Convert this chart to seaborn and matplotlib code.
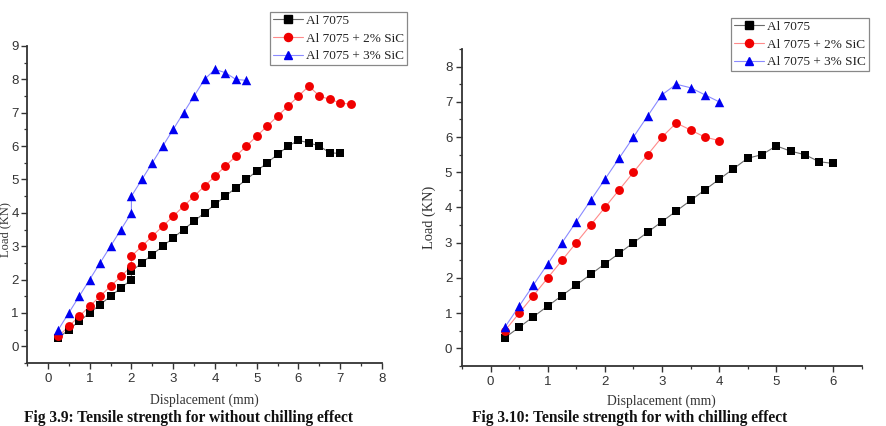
import numpy as np
import pandas as pd
import matplotlib
matplotlib.use("Agg")
import matplotlib.pyplot as plt
from matplotlib.lines import Line2D
from matplotlib.ticker import MultipleLocator
import seaborn as sns

# ---------------- data ----------------
series_names = ["Al 7075", "Al 7075 + 2% SiC", "Al 7075 + 3% SiC"]
legend_labels_right = ["Al 7075", "Al 7075 + 2% SiC", "Al 7075 + 3% SIC"]

# Fig 3.9 (without chilling)
l_x_base = [0.25, 0.5, 0.75, 1.0, 1.25, 1.5, 1.75, 2.0, 2.0, 2.25, 2.5, 2.75, 3.0, 3.25,
            3.5, 3.75, 4.0, 4.25, 4.5, 4.75, 5.0, 5.25, 5.5, 5.75, 6.0, 6.25, 6.5, 6.75, 7.0]
l_y_base = [0.25, 0.5, 0.75, 1.0, 1.25, 1.5, 1.75, 2.0, 2.25, 2.5, 2.75, 3.0, 3.25, 3.5,
            3.75, 4.0, 4.25, 4.5, 4.75, 5.0, 5.25, 5.5, 5.75, 6.0, 6.17, 6.1, 6.0, 5.8, 5.78]
l_x_2 = [0.25, 0.5, 0.75, 1.0, 1.25, 1.5, 1.75, 2.0, 2.0, 2.25, 2.5, 2.75, 3.0, 3.25, 3.5,
         3.75, 4.0, 4.25, 4.5, 4.75, 5.0, 5.25, 5.5, 5.75, 6.0, 6.25, 6.5, 6.75, 7.0, 7.25]
l_y_2 = [0.3, 0.6, 0.9, 1.2, 1.5, 1.8, 2.1, 2.4, 2.7, 3.0, 3.3, 3.6, 3.9, 4.2, 4.5,
         4.8, 5.1, 5.4, 5.7, 6.0, 6.3, 6.6, 6.9, 7.2, 7.5, 7.8, 7.5, 7.4, 7.3, 7.25]
l_x_3 = [0.25, 0.5, 0.75, 1.0, 1.25, 1.5, 1.75, 2.0, 2.0, 2.25, 2.5, 2.75, 3.0, 3.25,
         3.5, 3.75, 4.0, 4.25, 4.5, 4.75]
l_y_3 = [0.5, 1.0, 1.5, 2.0, 2.5, 3.0, 3.5, 4.0, 4.5, 5.0, 5.5, 6.0, 6.5, 7.0,
         7.5, 8.0, 8.3, 8.2, 8.0, 7.97]

# Fig 3.10 (with chilling)
r_x_base = [0.25, 0.5, 0.75, 1.0, 1.25, 1.5, 1.75, 2.0, 2.25, 2.5, 2.75, 3.0, 3.25, 3.5,
            3.75, 4.0, 4.25, 4.5, 4.75, 5.0, 5.25, 5.5, 5.75, 6.0]
r_y_base = [0.3, 0.6, 0.9, 1.2, 1.5, 1.8, 2.1, 2.4, 2.7, 3.0, 3.3, 3.6, 3.9, 4.2,
            4.5, 4.8, 5.1, 5.4, 5.5, 5.75, 5.6, 5.5, 5.3, 5.25]
r_x_2 = [0.25, 0.5, 0.75, 1.0, 1.25, 1.5, 1.75, 2.0, 2.25, 2.5, 2.75, 3.0, 3.25, 3.5, 3.75, 4.0]
r_y_2 = [0.5, 1.0, 1.5, 2.0, 2.5, 3.0, 3.5, 4.0, 4.5, 5.0, 5.5, 6.0, 6.4, 6.2, 6.0, 5.9]
r_x_3 = [0.25, 0.5, 0.75, 1.0, 1.25, 1.5, 1.75, 2.0, 2.25, 2.5, 2.75, 3.0, 3.25, 3.5, 3.75, 4.0]
r_y_3 = [0.6, 1.2, 1.8, 2.4, 3.0, 3.6, 4.2, 4.8, 5.4, 6.0, 6.6, 7.2, 7.5, 7.4, 7.2, 7.0]

x_label = "Displacement (mm)"
y_label = "Load (KN)"
caption_left = "Fig 3.9: Tensile strength for without chilling effect"
caption_right = "Fig 3.10: Tensile strength for with chilling effect"

# ---------------- style ----------------
sns.set_theme(style="ticks")
plt.rcParams["font.family"] = ["Liberation Sans", "DejaVu Sans"]

marker_colors = ["#000000", "#f00000", "#0000f0"]
line_colors = ["#6a6a6a", "#ff8a8a", "#8a8aff"]
markers = ["s", "o", "^"]
msizes = [6.0, 6.4, 6.8]


def make_df(xs_list, ys_list):
    frames = []
    for name, xs, ys in zip(series_names, xs_list, ys_list):
        frames.append(pd.DataFrame({"x": xs, "y": ys, "series": name,
                                    "order": np.arange(len(xs))}))
    return pd.concat(frames, ignore_index=True)


def draw(ax, df, xlim, ylim, labels, legend_bbox, ylabel_size):
    for i, name in enumerate(series_names):
        sub = df[df["series"] == name].sort_values("order")
        sns.lineplot(data=sub, x="x", y="y", ax=ax, estimator=None, sort=False,
                     color=line_colors[i], linewidth=0.8, legend=False, zorder=2)
        sns.scatterplot(data=sub, x="x", y="y", ax=ax, marker=markers[i],
                        color=marker_colors[i], s=msizes[i] ** 2, linewidth=0,
                        legend=False, zorder=3)
    ax.set_xlim(*xlim)
    ax.set_ylim(*ylim)
    ax.xaxis.set_major_locator(MultipleLocator(1))
    ax.xaxis.set_minor_locator(MultipleLocator(0.5))
    ax.yaxis.set_major_locator(MultipleLocator(1))
    ax.yaxis.set_minor_locator(MultipleLocator(0.5))
    sns.despine(ax=ax)
    for s in ["left", "bottom"]:
        ax.spines[s].set_linewidth(1.3)
        ax.spines[s].set_color("#333333")
    ax.tick_params(which="major", direction="out", length=4, width=1.0,
                   labelsize=9.5, pad=3, color="#333333", labelcolor="#333333")
    ax.tick_params(which="minor", direction="out", length=2.5, width=0.9,
                   color="#333333")
    ax.set_xlabel(x_label, family=["Liberation Serif"], fontsize=9.8, color="#333333")
    ax.set_ylabel(y_label, family=["Liberation Serif"], fontsize=ylabel_size, color="#333333")
    handles = [Line2D([0], [0], color=line_colors[i], lw=0.8, marker=markers[i],
                      markersize=msizes[i] - 0.6, markerfacecolor=marker_colors[i],
                      markeredgecolor=marker_colors[i])
               for i in range(3)]
    leg = ax.legend(handles, labels, loc="upper left", bbox_to_anchor=legend_bbox,
                    bbox_transform=ax.figure.transFigure,
                    prop={"family": "Liberation Serif", "size": 9.5},
                    frameon=True, fancybox=False, handlelength=2.3,
                    handletextpad=0.25, labelspacing=0.42, borderpad=0.2,
                    borderaxespad=0, framealpha=1)
    leg.get_frame().set_edgecolor("#888888")
    leg.get_frame().set_linewidth(0.9)
    for t in leg.get_texts():
        t.set_color("#222222")
    return ax


W, H = 886, 426
fig = plt.figure(figsize=(W / 100, H / 100), dpi=100)

def axes_px(l, r, t, b):
    return fig.add_axes([l / W, 1 - b / H, (r - l) / W, (b - t) / H])

ax1 = axes_px(27, 382, 46, 363)
ax2 = axes_px(462, 862, 49, 366)

draw(ax1, make_df([l_x_base, l_x_2, l_x_3], [l_y_base, l_y_2, l_y_3]),
     (-0.5, 8), (-0.5, 9), series_names, (270 / W, 1 - 12 / H), 9.0)
draw(ax2, make_df([r_x_base, r_x_2, r_x_3], [r_y_base, r_y_2, r_y_3]),
     (-0.5, 6.5), (-0.5, 8.5), legend_labels_right, (731 / W, 1 - 18 / H), 10.4)

ax1.tick_params(axis="y", which="major", pad=2)

ax1.xaxis.set_label_coords(0.501, -0.117)
ax1.xaxis.label.set_va("center")
ax1.yaxis.set_label_coords(-0.0625, 0.42)
ax1.yaxis.label.set_va("center")
ax2.xaxis.set_label_coords(0.4975, -0.110)
ax2.xaxis.label.set_va("center")
ax2.yaxis.set_label_coords(-0.0825, 0.47)
ax2.yaxis.label.set_va("center")

fig.text(24 / W, 1 - 410 / H, caption_left, ha="left", va="top",
         family=["Liberation Serif"], fontweight="bold", fontsize=11.2, color="#111111")
fig.text(472 / W, 1 - 410 / H, caption_right, ha="left", va="top",
         family=["Liberation Serif"], fontweight="bold", fontsize=11.2, color="#111111")

fig.savefig("out.png", dpi=100)
